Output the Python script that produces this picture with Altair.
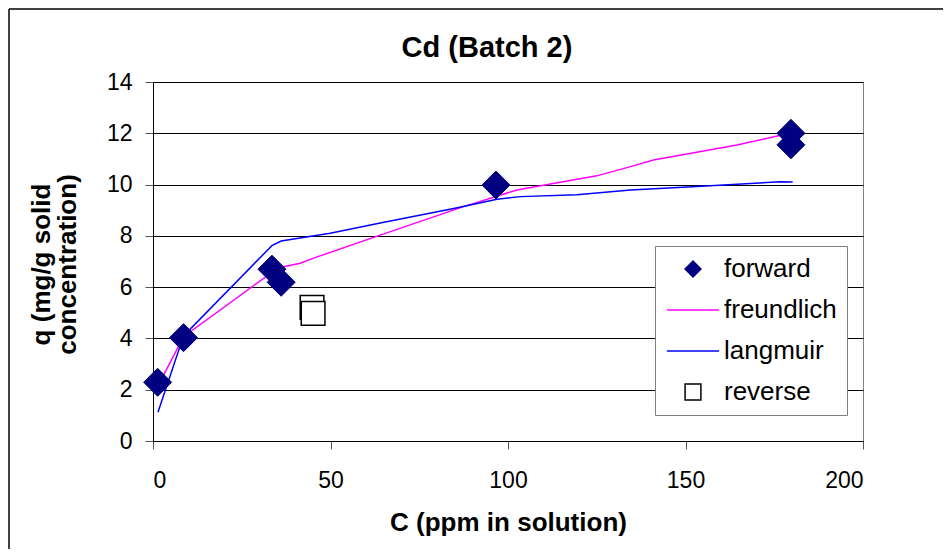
import altair as alt
import pandas as pd

# ---- data ----
forward_c = [1.3, 8.6, 33.5, 36.1, 96.6, 179.7, 179.7]
forward_q = [2.29, 4.03, 6.70, 6.19, 9.98, 12.0, 11.55]
reverse_c = [44.8, 45.1]
reverse_q = [5.21, 4.98]
freundlich_c = [1.4, 8.6, 33.5, 36.1, 41.5, 45.2, 64.0, 87.5, 102.5, 125.0, 134.5, 141.0, 164.5, 177.7]
freundlich_q = [2.15, 4.07, 6.58, 6.78, 6.93, 7.13, 8.03, 9.14, 9.79, 10.34, 10.70, 10.96, 11.54, 11.95]
langmuir_c = [1.4, 8.6, 33.5, 36.1, 49.9, 64.0, 84.7, 96.9, 103.5, 119.4, 134.5, 153.2, 176.7, 180.2]
langmuir_q = [1.12, 4.10, 7.62, 7.80, 8.10, 8.50, 9.07, 9.43, 9.53, 9.60, 9.79, 9.92, 10.11, 10.10]

series_names = ["forward", "freundlich", "langmuir", "reverse"]
series_stroke = ["#000080", "#FF00FF", "#0000FF", "#000000"]
series_fill = ["#000080", "transparent", "transparent", "#FFFFFF"]
series_shape = ["diamond", "M-3.3,0L3.3,0", "M-3.3,0L3.3,0", "square"]

x_ticks = [0, 50, 100, 150, 200]
y_ticks = [0, 2, 4, 6, 8, 10, 12, 14]

FONT = "Liberation Sans"

# ---- tables ----
fwd = pd.DataFrame({"c": forward_c, "q": forward_q, "series": "forward"})
rev = pd.DataFrame({"c": reverse_c, "q": reverse_q, "series": "reverse"})
lines = pd.concat([
    pd.DataFrame({"c": freundlich_c, "q": freundlich_q, "series": "freundlich", "i": range(len(freundlich_c))}),
    pd.DataFrame({"c": langmuir_c, "q": langmuir_q, "series": "langmuir", "i": range(len(langmuir_c))}),
])

W, H = 710, 359

x_enc = alt.X("c:Q", scale=alt.Scale(domain=[0, 200], nice=False),
              axis=alt.Axis(values=x_ticks, title="C (ppm in solution)", grid=False,
                            titleX=W / 2, titleY=89, titleBaseline="alphabetic",
                            labelPadding=20))
y_enc = alt.Y("q:Q", scale=alt.Scale(domain=[0, 14], nice=False),
              axis=alt.Axis(values=y_ticks, title=["q (mg/g solid", "concentration)"],
                            grid=True, titleX=-112, titleY=182, titleAngle=270,
                            titleBaseline="middle", titleAlign="center",
                            labelPadding=13))

stroke_scale = alt.Scale(domain=series_names, range=series_stroke)
fill_scale = alt.Scale(domain=series_names, range=series_fill)
shape_scale = alt.Scale(domain=series_names, range=series_shape)

legend = alt.Legend(title=None, orient="none", legendX=502, legendY=164)

one = pd.DataFrame({"a": [0]})
border_left = alt.Chart(one).mark_rule(stroke="#000000", strokeWidth=1.5).encode(
    x=alt.value(-144), y=alt.value(-73), y2=alt.value(520))
border_top = alt.Chart(one).mark_rule(stroke="#000000", strokeWidth=1.5).encode(
    x=alt.value(-144), x2=alt.value(800), y=alt.value(-73))

line_layer = alt.Chart(lines).mark_line(strokeWidth=1.5).encode(
    x=x_enc, y=y_enc,
    stroke=alt.Stroke("series:N", scale=stroke_scale, legend=legend),
    detail="series:N",
    order="i:Q",
)

fwd_layer = alt.Chart(fwd).mark_point(size=784, opacity=1, strokeWidth=1).encode(
    x=x_enc, y=y_enc,
    stroke=alt.Stroke("series:N", scale=stroke_scale, legend=legend),
    fill=alt.Fill("series:N", scale=fill_scale, legend=legend),
    shape=alt.Shape("series:N", scale=shape_scale, legend=legend),
)

rev_layer = alt.Chart(rev).mark_point(size=560, opacity=1, strokeWidth=1.5).encode(
    x=x_enc, y=y_enc,
    stroke=alt.Stroke("series:N", scale=stroke_scale, legend=legend),
    fill=alt.Fill("series:N", scale=fill_scale, legend=legend),
    shape=alt.Shape("series:N", scale=shape_scale, legend=legend),
)

chart = alt.layer(border_left, border_top, line_layer, fwd_layer, rev_layer).properties(
    width=W, height=H,
    title=alt.TitleParams("Cd (Batch 2)", anchor="middle", frame="group",
                          fontSize=29, fontWeight="bold", font=FONT,
                          baseline="alphabetic", offset=-78, dx=-21, color="#000000"),
    autosize=alt.AutoSizeParams(type="none"),
    padding={"left": 145, "top": 74, "right": 80, "bottom": 108},
).configure(
    font=FONT,
    background="#FFFFFF",
).configure_view(
    stroke="#808080", strokeWidth=1,
).configure_axis(
    labelFont=FONT, labelFontSize=23, labelColor="#000000",
    titleFont=FONT, titleFontSize=26, titleFontWeight="bold", titleColor="#000000",
    titleLineHeight=26,
    domainColor="#000000", domainWidth=1,
    tickColor="#555555", tickSize=8, tickWidth=1,
    gridColor="#000000", gridWidth=1, gridOpacity=1,
).configure_legend(
    labelFont=FONT, labelFontSize=26, labelColor="#000000",
    strokeColor="#808080", fillColor="#FFFFFF", padding=10,
    symbolSize=250, symbolStrokeWidth=1.5, symbolOffset=15, labelOffset=18,
    rowPadding=15, symbolType="circle",
)

chart.save("out.html", embed_options={"renderer": "svg", "actions": False})
